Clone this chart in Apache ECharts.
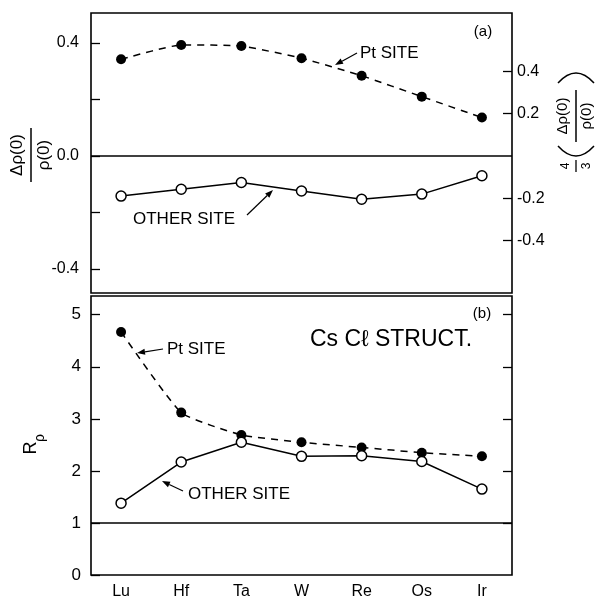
<!DOCTYPE html>
<html>
<head>
<meta charset="utf-8">
<script src="https://cdn.jsdelivr.net/npm/echarts@6/dist/echarts.min.js"></script>
<style>
  html, body { margin: 0; padding: 0; background: #fff; }
  #chart { width: 595px; height: 600px; }
</style>
</head>
<body>
<div id="chart"></div>
<script>
// Elements along the 5d row
const elements = ['Lu', 'Hf', 'Ta', 'W', 'Re', 'Os', 'Ir'];

// (a) relative change of the contact density, Δρ(0)/ρ(0)
const ptSiteShift = [0.342, 0.393, 0.389, 0.346, 0.284, 0.210, 0.136];
const otherSiteShift = [-0.142, -0.118, -0.094, -0.124, -0.153, -0.135, -0.070];

// (b) enhancement ratio R_ρ
const ptSiteRatio = [4.67, 3.12, 2.69, 2.55, 2.45, 2.35, 2.28];
const otherSiteRatio = [1.38, 2.17, 2.55, 2.28, 2.29, 2.18, 1.65];

// Tick values
const shiftTicks = [-0.4, -0.2, 0, 0.2, 0.4];
const shiftLabels = [-0.4, 0, 0.4];
const scaledTicks = [-0.4, -0.2, 0.2, 0.4];
const ratioTicks = [0, 1, 2, 3, 4, 5];
const ratioRightTicks = [1, 2, 3, 4, 5];

// Axis ranges; the right scale of (a) is 4/3 of the left one
const shiftMin = -0.485, shiftMax = 0.506;
const ratioMin = 0, ratioMax = 5.36;

const FONT = '"Liberation Sans", Arial, sans-serif';
const INK = '#000';

const chart = echarts.init(document.getElementById('chart'), null, { renderer: 'canvas' });

const tickStyle = { color: INK, width: 1.3 };
const dashed = [7, 6];

function filledSeries(data, xi, yi) {
  return {
    type: 'line', xAxisIndex: xi, yAxisIndex: yi, data: data,
    smooth: 0.15,
    symbol: 'circle', symbolSize: 10,
    itemStyle: { color: INK },
    lineStyle: { color: INK, width: 1.5, type: dashed },
    emphasis: { disabled: true }, z: 3
  };
}
function openSeries(data, xi, yi, refValue) {
  return {
    type: 'line', xAxisIndex: xi, yAxisIndex: yi, data: data,
    symbol: 'circle', symbolSize: 10,
    itemStyle: { color: '#fff', borderColor: INK, borderWidth: 1.5 },
    lineStyle: { color: INK, width: 1.5 },
    emphasis: { disabled: true }, z: 4,
    markLine: {
      silent: true, symbol: ['none', 'none'], label: { show: false },
      lineStyle: { color: INK, type: 'solid', width: 1.5 },
      emphasis: { disabled: true },
      data: [{ yAxis: refValue }]
    }
  };
}

function arrow(x1, y1, x2, y2) {
  const a = Math.atan2(y2 - y1, x2 - x1);
  const L = 8, W = 3;
  const bx = x2 - L * Math.cos(a), by = y2 - L * Math.sin(a);
  const px = -Math.sin(a) * W, py = Math.cos(a) * W;
  return [
    { type: 'line', shape: { x1: x1, y1: y1, x2: bx, y2: by }, style: { stroke: INK, lineWidth: 1.2 } },
    { type: 'polygon', shape: { points: [[x2, y2], [bx + px, by + py], [bx - px, by - py]] }, style: { fill: INK } }
  ];
}
function label(text, x, y, size, align) {
  return {
    type: 'text',
    style: { text: text, x: x, y: y, fill: INK, font: size + 'px ' + FONT, align: align || 'left', verticalAlign: 'middle' }
  };
}
function paren(x1, x2, y, apex) {
  return {
    type: 'bezierCurve',
    shape: { x1: x1, y1: y, x2: x2, y2: y, cpx1: (x1 + x2) / 2, cpy1: 2 * apex - y },
    style: { stroke: INK, lineWidth: 1.5, fill: null }
  };
}

const graphics = [].concat(
  label('(a)', 483, 32, 15, 'center'),
  label('Pt SITE', 360, 53, 17),
  arrow(357, 53, 335, 65),
  label('OTHER SITE', 133, 219, 17),
  arrow(247, 215, 273, 190),
  label('(b)', 482, 314, 15, 'center'),
  label('Cs C\u2113 STRUCT.', 310, 340, 23),
  label('Pt SITE', 167, 349, 17),
  arrow(163, 349, 137, 353),
  label('OTHER SITE', 188, 494, 17),
  arrow(183, 491, 162, 481),
  // left title of (a): Δρ(0) / ρ(0)
  {
    type: 'group', x: 31, y: 155, rotation: Math.PI / 2,
    children: [
      label('\u0394\u03C1(0)', 0, -14, 17, 'center'),
      { type: 'line', shape: { x1: -27, y1: 0, x2: 27, y2: 0 }, style: { stroke: INK, lineWidth: 1.5 } },
      label('\u03C1(0)', 0, 13, 17, 'center')
    ]
  },
  // right title of (a): 4/3 (Δρ(0) / ρ(0))
  {
    type: 'group', x: 576, y: 116, rotation: Math.PI / 2,
    children: [
      label('4', -50, -10, 12, 'center'),
      { type: 'line', shape: { x1: -56, y1: 0, x2: -44, y2: 0 }, style: { stroke: INK, lineWidth: 1.3 } },
      label('3', -50, 11, 12, 'center'),
      label('\u0394\u03C1(0)', 0, -13, 15, 'center'),
      { type: 'line', shape: { x1: -26, y1: 0, x2: 26, y2: 0 }, style: { stroke: INK, lineWidth: 1.5 } },
      label('\u03C1(0)', 0, 11, 15, 'center')
    ]
  },
  paren(558, 594, 83, 73),
  paren(558, 594, 146, 156),
  // title of (b): R_ρ
  {
    type: 'group', x: 35, y: 443, rotation: Math.PI / 2,
    children: [
      label('R', -5, -4, 18, 'center'),
      label('\u03C1', 5, 5, 14, 'center')
    ]
  }
);

const option = {
  animation: false,
  backgroundColor: '#fff',
  textStyle: { fontFamily: FONT, color: INK },
  grid: [
    { left: 91, right: 83, top: 13, height: 280, show: true, borderColor: INK, borderWidth: 1.6, backgroundColor: 'transparent' },
    { left: 91, right: 83, top: 296, height: 282, show: true, borderColor: INK, borderWidth: 1.6, backgroundColor: 'transparent' }
  ],
  xAxis: [
    {
      type: 'category', gridIndex: 0, data: elements, boundaryGap: true,
      axisLine: { show: false }, axisTick: { show: false }, axisLabel: { show: false }, splitLine: { show: false }
    },
    {
      type: 'category', gridIndex: 1, data: elements, boundaryGap: true,
      axisLine: { show: false }, axisTick: { show: false }, splitLine: { show: false },
      axisLabel: { color: INK, fontSize: 16, fontFamily: FONT, margin: 9 }
    }
  ],
  yAxis: [
    {
      type: 'value', gridIndex: 0, position: 'left', min: shiftMin, max: shiftMax,
      axisLine: { show: false }, splitLine: { show: false },
      axisTick: { show: true, inside: true, length: 9, customValues: shiftTicks, lineStyle: tickStyle },
      axisLabel: { customValues: shiftLabels, formatter: v => v.toFixed(1), color: INK, fontSize: 16, fontFamily: FONT, margin: 12 }
    },
    {
      type: 'value', gridIndex: 0, position: 'right', min: shiftMin * 4 / 3, max: shiftMax * 4 / 3,
      axisLine: { show: false }, splitLine: { show: false },
      axisTick: { show: true, inside: true, length: 9, customValues: scaledTicks, lineStyle: tickStyle },
      axisLabel: { customValues: scaledTicks, formatter: v => v.toFixed(1), color: INK, fontSize: 16, fontFamily: FONT, margin: 5 }
    },
    {
      type: 'value', gridIndex: 1, position: 'left', min: ratioMin, max: ratioMax,
      axisLine: { show: false }, splitLine: { show: false },
      axisTick: { show: true, inside: true, length: 9, customValues: ratioTicks, lineStyle: tickStyle },
      axisLabel: { customValues: ratioTicks, formatter: v => String(v), color: INK, fontSize: 17, fontFamily: FONT, margin: 10 }
    },
    {
      type: 'value', gridIndex: 1, position: 'right', min: ratioMin, max: ratioMax,
      axisLine: { show: false }, splitLine: { show: false },
      axisTick: { show: true, inside: true, length: 9, customValues: ratioRightTicks, lineStyle: tickStyle },
      axisLabel: { show: false }
    }
  ],
  series: [
    filledSeries(ptSiteShift, 0, 0),
    openSeries(otherSiteShift, 0, 0, 0),
    filledSeries(ptSiteRatio, 1, 2),
    openSeries(otherSiteRatio, 1, 2, 1)
  ],
  graphic: { elements: graphics }
};

chart.setOption(option);
</script>
</body>
</html>
